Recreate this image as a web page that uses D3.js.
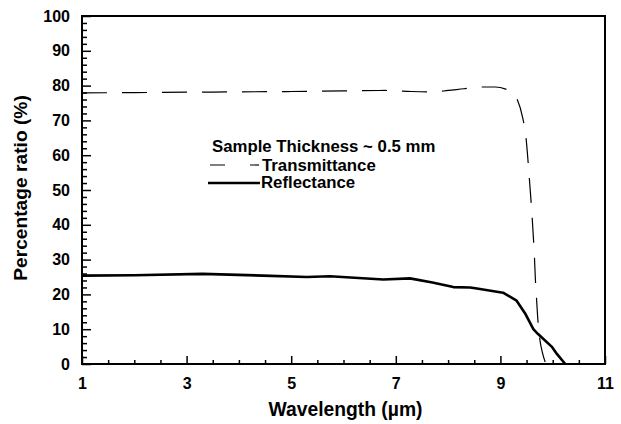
<!DOCTYPE html>
<html>
<head>
<meta charset="utf-8">
<script src="https://cdn.jsdelivr.net/npm/d3@7"></script>
<style>
  body { margin: 0; background: #fff; }
  text { font-family: "Liberation Sans", Arial, sans-serif; font-weight: bold; fill: #000; }
</style>
</head>
<body>
<div id="chart"></div>
<script>
// Transmittance curve (wavelength in um, percent)
const transWavelength = [1, 2, 3, 4, 5, 6, 6.8, 7.3, 7.7, 8.0, 8.3, 8.65, 8.9, 9.1, 9.2, 9.32, 9.43, 9.49, 9.53, 9.56, 9.59, 9.62, 9.65, 9.67, 9.69, 9.72, 9.75, 9.8, 9.87];
const transmittance   = [77.9, 78.0, 78.1, 78.2, 78.3, 78.5, 78.6, 78.3, 78.2, 78.6, 79.1, 79.6, 79.6, 79.0, 78.2, 76.1, 70.5, 65, 58, 52, 46, 39, 31, 24, 19, 12, 7.5, 3.5, 0];

// Reflectance curve
const reflWavelength = [1, 2, 3.3, 4.46, 5.3, 5.74, 6.76, 7.27, 7.7, 8.1, 8.42, 8.55, 9.05, 9.31, 9.47, 9.63, 9.72, 9.98, 10.08, 10.24];
const reflectance    = [25.4, 25.5, 25.9, 25.4, 25.0, 25.2, 24.3, 24.6, 23.4, 22.1, 22.0, 21.7, 20.5, 18.2, 14.6, 10, 8.6, 5, 2.9, 0];

const xMajor = [1, 3, 5, 7, 9, 11];
const yMajor = [0, 10, 20, 30, 40, 50, 60, 70, 80, 90, 100];

const W = 621, H = 424;
const plotLeft = 82, plotRight = 605, plotTop = 16, plotBottom = 364;

const svg = d3.select("#chart").append("svg")
    .attr("width", W)
    .attr("height", H);

const x = d3.scaleLinear().domain([1, 11]).range([plotLeft, plotRight]);
const y = d3.scaleLinear().domain([0, 100]).range([plotBottom, plotTop]);

const xMinor = d3.range(1, 11.01, 0.5).filter(v => !xMajor.includes(v));
const yMinor = d3.range(0, 100.01, 2).filter(v => !yMajor.includes(v));

// minor ticks
svg.append("g")
    .attr("transform", "translate(0," + plotBottom + ")")
    .call(d3.axisBottom(x).tickValues(xMinor).tickFormat("").tickSize(-4))
    .call(g => g.select(".domain").remove());
svg.append("g")
    .attr("transform", "translate(" + plotLeft + ",0)")
    .call(d3.axisLeft(y).tickValues(yMinor).tickFormat("").tickSize(-5))
    .call(g => g.select(".domain").remove());

// major ticks + labels
const xAxis = svg.append("g")
    .attr("transform", "translate(0," + plotBottom + ")")
    .call(d3.axisBottom(x).tickValues(xMajor).tickFormat(d3.format("d")).tickSize(-8).tickPadding(14));
const yAxis = svg.append("g")
    .attr("transform", "translate(" + plotLeft + ",0)")
    .call(d3.axisLeft(y).tickValues(yMajor).tickSize(-9).tickPadding(12));

[xAxis, yAxis].forEach(g => {
    g.select(".domain").remove();
    g.selectAll("text")
        .style("font-family", "'Liberation Sans', Arial, sans-serif")
        .style("font-weight", "bold")
        .style("font-size", "16px")
        .attr("fill", "#000");
});
svg.selectAll(".tick line").attr("stroke", "#000").attr("stroke-width", 1.5);

// frame
svg.append("rect")
    .attr("x", plotLeft)
    .attr("y", plotTop)
    .attr("width", plotRight - plotLeft)
    .attr("height", plotBottom - plotTop)
    .attr("fill", "none")
    .attr("stroke", "#000")
    .attr("stroke-width", 2);

// curves
const transLine = d3.line()
    .x((d, i) => x(transWavelength[i]))
    .y(d => y(d))
    .curve(d3.curveMonotoneX);

const reflLine = d3.line()
    .x((d, i) => x(reflWavelength[i]))
    .y(d => y(d));

svg.append("path")
    .attr("d", transLine(transmittance))
    .attr("fill", "none")
    .attr("stroke", "#000")
    .attr("stroke-width", 1.2)
    .attr("stroke-dasharray", "25,15");

svg.append("path")
    .attr("d", reflLine(reflectance))
    .attr("fill", "none")
    .attr("stroke", "#000")
    .attr("stroke-width", 2.6)
    .attr("stroke-linejoin", "round");

// legend
const legend = svg.append("g").style("font-size", "16.8px");
legend.append("text").attr("x", 212).attr("y", 152).text("Sample Thickness ~ 0.5 mm");
legend.append("line")
    .attr("x1", 210).attr("x2", 259).attr("y1", 165).attr("y2", 165)
    .attr("stroke", "#000").attr("stroke-width", 1.2)
    .attr("stroke-dasharray", "15,25");
legend.append("text").attr("x", 262).attr("y", 170.5).text("Transmittance");
legend.append("line")
    .attr("x1", 208).attr("x2", 260).attr("y1", 183).attr("y2", 183)
    .attr("stroke", "#000").attr("stroke-width", 2.6);
legend.append("text").attr("x", 261).attr("y", 188).text("Reflectance");

// axis titles
svg.append("text")
    .attr("x", (plotLeft + plotRight) / 2 + 2)
    .attr("y", 416)
    .attr("text-anchor", "middle")
    .style("font-size", "19.3px")
    .text("Wavelength (\u00b5m)");

svg.append("text")
    .attr("transform", "translate(27," + 188 + ") rotate(-90)")
    .attr("text-anchor", "middle")
    .style("font-size", "19.2px")
    .text("Percentage ratio (%)");
</script>
</body>
</html>
